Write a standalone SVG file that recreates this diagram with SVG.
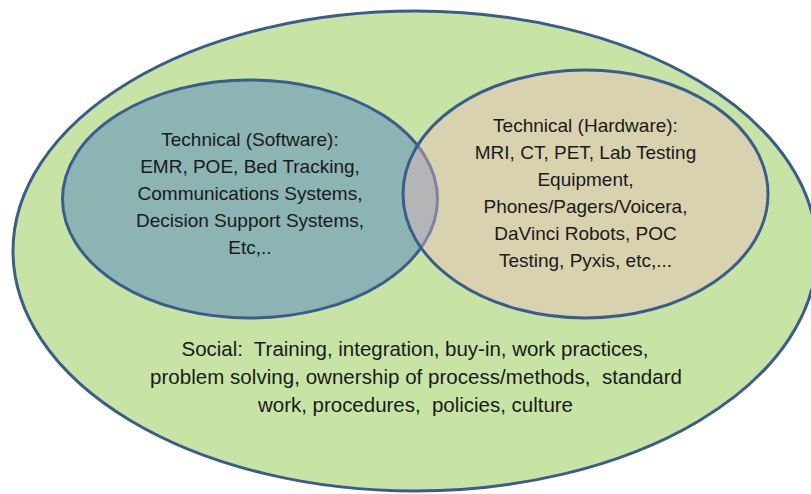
<svg xmlns="http://www.w3.org/2000/svg" width="811" height="494" viewBox="0 0 811 494">
  <style>
    .outline { stroke: #3a5d8e; stroke-width: 3; }
    .label { font-family: "Liberation Sans", Arial, sans-serif; font-size: 19px; fill: #1a1a1a; text-anchor: middle; }
    .social { font-size: 20.5px; }
  </style>
  <rect width="811" height="494" fill="#ffffff"/>
  <g id="social">
    <ellipse cx="415" cy="251" rx="402" ry="240" fill="#c7e4a5" class="outline"/>
    <text class="label social" x="415" y="356" textLength="467" lengthAdjust="spacing" xml:space="preserve">Social:  Training, integration, buy-in, work practices,</text>
    <text class="label social" x="416" y="384" textLength="532" lengthAdjust="spacing" xml:space="preserve">problem solving, ownership of process/methods,  standard</text>
    <text class="label social" x="415.5" y="412" textLength="315" lengthAdjust="spacing" xml:space="preserve">work, procedures,  policies, culture</text>
  </g>
  <g id="software">
    <ellipse cx="250" cy="199" rx="187.5" ry="119" fill="#8bb4b3" class="outline"/>
    <text class="label" x="250" y="145.5">Technical (Software):</text>
    <text class="label" x="250" y="172.5">EMR, POE, Bed Tracking,</text>
    <text class="label" x="250" y="199.5">Communications Systems,</text>
    <text class="label" x="250" y="226.5">Decision Support Systems,</text>
    <text class="label" x="250" y="253.5">Etc,..</text>
  </g>
  <g id="hardware">
    <ellipse cx="585.5" cy="194" rx="182.5" ry="124" fill="#f3b6bd" fill-opacity="0.4"/>
    <ellipse cx="585.5" cy="194" rx="182.5" ry="124" fill="none" class="outline"/>
    <text class="label" x="585.5" y="132">Technical (Hardware):</text>
    <text class="label" x="585.5" y="159">MRI, CT, PET, Lab Testing</text>
    <text class="label" x="585.5" y="186">Equipment,</text>
    <text class="label" x="585.5" y="213">Phones/Pagers/Voicera,</text>
    <text class="label" x="585.5" y="240">DaVinci Robots, POC</text>
    <text class="label" x="585.5" y="267">Testing, Pyxis, etc,...</text>
  </g>
  <g id="connectors"></g>
</svg>
